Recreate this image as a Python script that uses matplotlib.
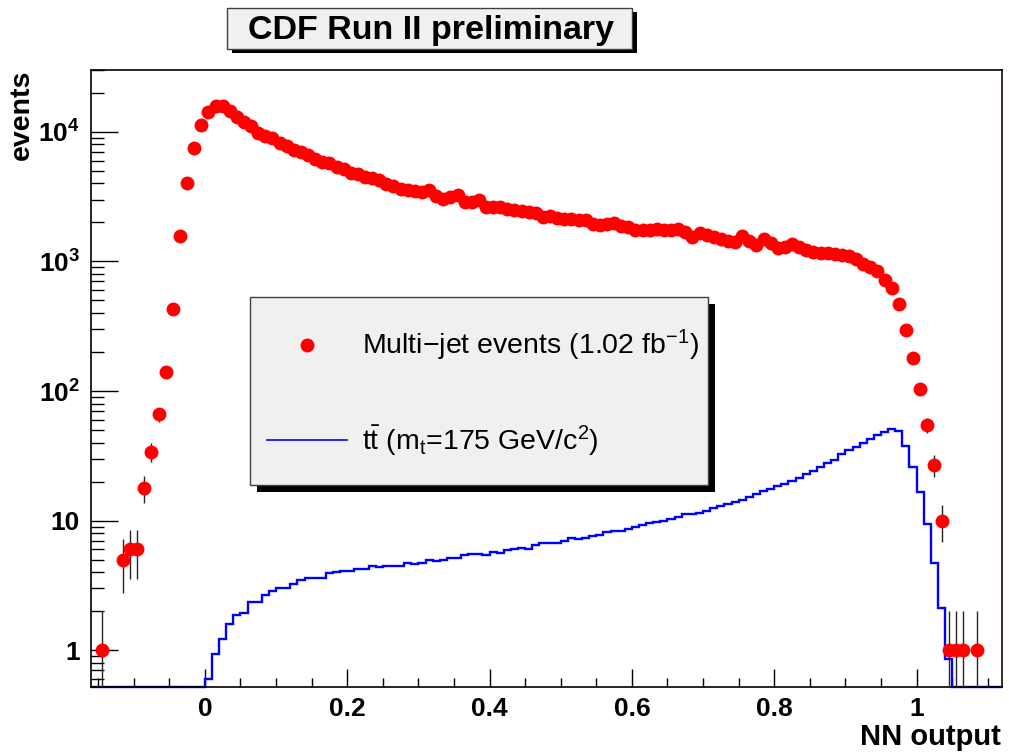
import numpy as np
import matplotlib
matplotlib.use("Agg")
import matplotlib.pyplot as plt
from matplotlib.patches import Rectangle
from matplotlib.lines import Line2D
from matplotlib.ticker import FixedLocator, MultipleLocator, LogLocator, NullFormatter

plt.rcParams["font.family"] = ["Liberation Sans", "DejaVu Sans"]
plt.rcParams["mathtext.fontset"] = "custom"
plt.rcParams["mathtext.rm"] = "Liberation Sans"
plt.rcParams["mathtext.it"] = "Liberation Sans:italic"
plt.rcParams["mathtext.bf"] = "Liberation Sans:bold"

# multi-jet data, 0.01 wide bins, first bin centre at -0.145
data_first_center = -0.145
data_bin_width = 0.01
data_counts = [
    1, 0, 0, 5, 6, 6, 18, 34, 66, 140,
    430, 1570, 4000, 7500, 11200,
    14300, 15800, 15800, 14500, 13000, 11900, 11000, 9800, 9250, 8900,
    8200, 7750, 7300, 7000, 6600, 6200, 5860, 5700, 5360, 5140,
    4820, 4760, 4520, 4440, 4230, 3990, 3800, 3640, 3560, 3480,
    3440, 3540, 3200, 3050, 3150, 3240, 2880, 2850, 3000, 2650,
    2640, 2640, 2560, 2480, 2450, 2400, 2370, 2220, 2230, 2180,
    2140, 2120, 2090, 2070, 1960, 1900, 1960, 1980, 1880, 1830,
    1760, 1740, 1760, 1790, 1760, 1740, 1770, 1680, 1530, 1660,
    1600, 1550, 1500, 1450, 1420, 1560, 1450, 1330, 1480, 1380,
    1260, 1300, 1360, 1290, 1220, 1180, 1170, 1160, 1150, 1130,
    1100, 1040, 960, 910, 850, 720, 620, 473, 298, 180,
    103, 55, 27, 10, 1, 1, 1, 0, 1,
]

# ttbar template, 0.01 wide bins from 0.00 to 1.05
ttbar_lo = 0.0
ttbar_values = [
    0.60, 0.93, 1.23, 1.58, 1.86, 1.94, 2.36, 2.36, 2.66, 2.87,
    3.03, 3.03, 3.27, 3.51, 3.61, 3.63, 3.63, 3.95, 4.03, 4.05,
    4.07, 4.20, 4.20, 4.45, 4.35, 4.47, 4.47, 4.47, 4.72, 4.61,
    4.72, 4.95, 4.85, 5.01, 5.13, 5.13, 5.41, 5.57, 5.51, 5.41,
    5.68, 5.64, 5.91, 6.00, 6.16, 6.05, 6.43, 6.73, 6.73, 6.73,
    6.97, 7.32, 7.15, 7.40, 7.58, 7.72, 8.18, 8.33, 8.33, 8.63,
    8.85, 9.22, 9.60, 9.75, 9.95, 10.25, 10.7, 11.2, 11.2, 11.5,
    11.9, 12.4, 12.9, 13.4, 13.9, 14.5, 15.1, 16.0, 16.9, 17.4,
    18.4, 19.3, 20.2, 21.4, 22.8, 24.1, 25.7, 27.6, 29.6, 32.5,
    34.9, 37.0, 39.8, 42.7, 45.6, 48.4, 50.7, 48.8, 37.9, 26.0,
    16.7, 9.4, 4.75, 2.1, 0.86,
]

x_ticks = [0, 0.2, 0.4, 0.6, 0.8, 1.0]
x_tick_labels = ["0", "0.2", "0.4", "0.6", "0.8", "1"]
y_ticks = [1, 10, 100, 1000, 10000]
y_tick_labels = ["1", "10", r"$\mathbf{10^{2}}$", r"$\mathbf{10^{3}}$", r"$\mathbf{10^{4}}$"]
xmin, xmax = -0.16, 1.12
ymin, ymax = 0.52, 3.0e4

W, H = 1009, 756


def fx(px):
    return px / W


def fy(py):
    return 1 - py / H


fig = plt.figure(figsize=(W / 100, H / 100), dpi=100)
ax = fig.add_axes([fx(91), fy(687), fx(1002) - fx(91), fy(70) - fy(687)])
ax.set_yscale("log")
ax.set_xlim(xmin, xmax)
ax.set_ylim(ymin, ymax)

# ttbar histogram, empty bins drawn along the bottom of the frame
nb = len(ttbar_values)
n_left = int(round((ttbar_lo - xmin) / data_bin_width))
n_right = int(round((xmax - (ttbar_lo + nb * data_bin_width)) / data_bin_width))
tt_vals = np.concatenate([np.zeros(n_left), ttbar_values, np.zeros(n_right)])
tt_edges = xmin + data_bin_width * np.arange(len(tt_vals) + 1)
ax.stairs(np.maximum(tt_vals, ymin), tt_edges, color="#0000ff", lw=1.7,
          baseline=None, clip_on=False, zorder=2)

# data points with sqrt(N) errors
counts = np.array(data_counts, dtype=float)
centers = data_first_center + data_bin_width * np.arange(len(counts))
m = counts > 0
ax.errorbar(centers[m], counts[m], yerr=np.sqrt(counts[m]), fmt="none",
            ecolor="0.15", elinewidth=1, capsize=0, zorder=3)
ax.plot(centers[m], counts[m], "o", color="#ff0000", ms=10, mec="none", zorder=4)

# axes styling, ROOT-like
ax.xaxis.set_major_locator(FixedLocator(x_ticks))
ax.set_xticklabels(x_tick_labels, fontweight="bold", fontsize=19)
ax.xaxis.set_minor_locator(MultipleLocator(0.05))
ax.yaxis.set_major_locator(FixedLocator(y_ticks))
ax.set_yticklabels(y_tick_labels, fontweight="bold", fontsize=19)
ax.yaxis.set_minor_locator(LogLocator(base=10, subs=np.arange(2, 10), numticks=20))
ax.yaxis.set_minor_formatter(NullFormatter())
ax.tick_params(which="both", direction="in", top=False, right=False, width=1)
ax.tick_params(axis="x", which="major", length=13, pad=7)
ax.tick_params(axis="x", which="minor", length=6.5)
ax.tick_params(axis="y", which="major", length=19.5, pad=8)
ax.tick_params(axis="y", which="minor", length=9.5)
for s in ["left", "bottom", "top"]:
    ax.spines[s].set_linewidth(1.2)
ax.spines["right"].set_color("#3a2828")
ax.spines["right"].set_linewidth(1.4)

fig.text(fx(22), fy(70), "events", rotation=90, ha="center", va="top",
         fontsize=20.5, fontweight="bold")
fig.text(fx(1001), fy(745), "NN output", ha="right", va="baseline",
         fontsize=21, fontweight="bold")

# title box with shadow
fig.patches.append(Rectangle((fx(232), fy(53)), fx(632) - fx(227), fy(8) - fy(49),
                             transform=fig.transFigure, facecolor="black",
                             edgecolor="none", zorder=1))
fig.patches.append(Rectangle((fx(227), fy(49)), fx(632) - fx(227), fy(8) - fy(49),
                             transform=fig.transFigure, facecolor="#f0f0f0",
                             edgecolor="0.25", lw=1, zorder=2))
fig.text(fx(431), fy(30), "CDF Run II preliminary", ha="center", va="center",
         fontsize=24.5, fontweight="bold", zorder=3)

# legend box with shadow
fig.patches.append(Rectangle((fx(257), fy(492)), fx(708) - fx(250), fy(297) - fy(485),
                             transform=fig.transFigure, facecolor="black",
                             edgecolor="none", zorder=3))
fig.patches.append(Rectangle((fx(250), fy(485)), fx(708) - fx(250), fy(297) - fy(485),
                             transform=fig.transFigure, facecolor="#f0f0f0",
                             edgecolor="0.25", lw=1, zorder=4))
handles = [
    Line2D([], [], ls="none", marker="o", color="#ff0000", ms=10, mec="none"),
    Line2D([], [], color="#0000ff", lw=1.2),
]
labels = [
    "Multi\u2212jet events (1.02 fb$^{\u22121}$)",
    r"$\mathrm{t\bar{t}}$ (m$_\mathrm{t}$=175 GeV/c$^{2}$)",
]
leg = fig.legend(handles, labels, loc="upper left", bbox_to_anchor=(fx(267), fy(328)),
                 frameon=False, fontsize=20.5, borderpad=0, borderaxespad=0,
                 handlelength=2.8, handletextpad=0.55, labelspacing=2.1, numpoints=1)
leg.set_zorder(5)

fig.savefig("out.png", dpi=100)
